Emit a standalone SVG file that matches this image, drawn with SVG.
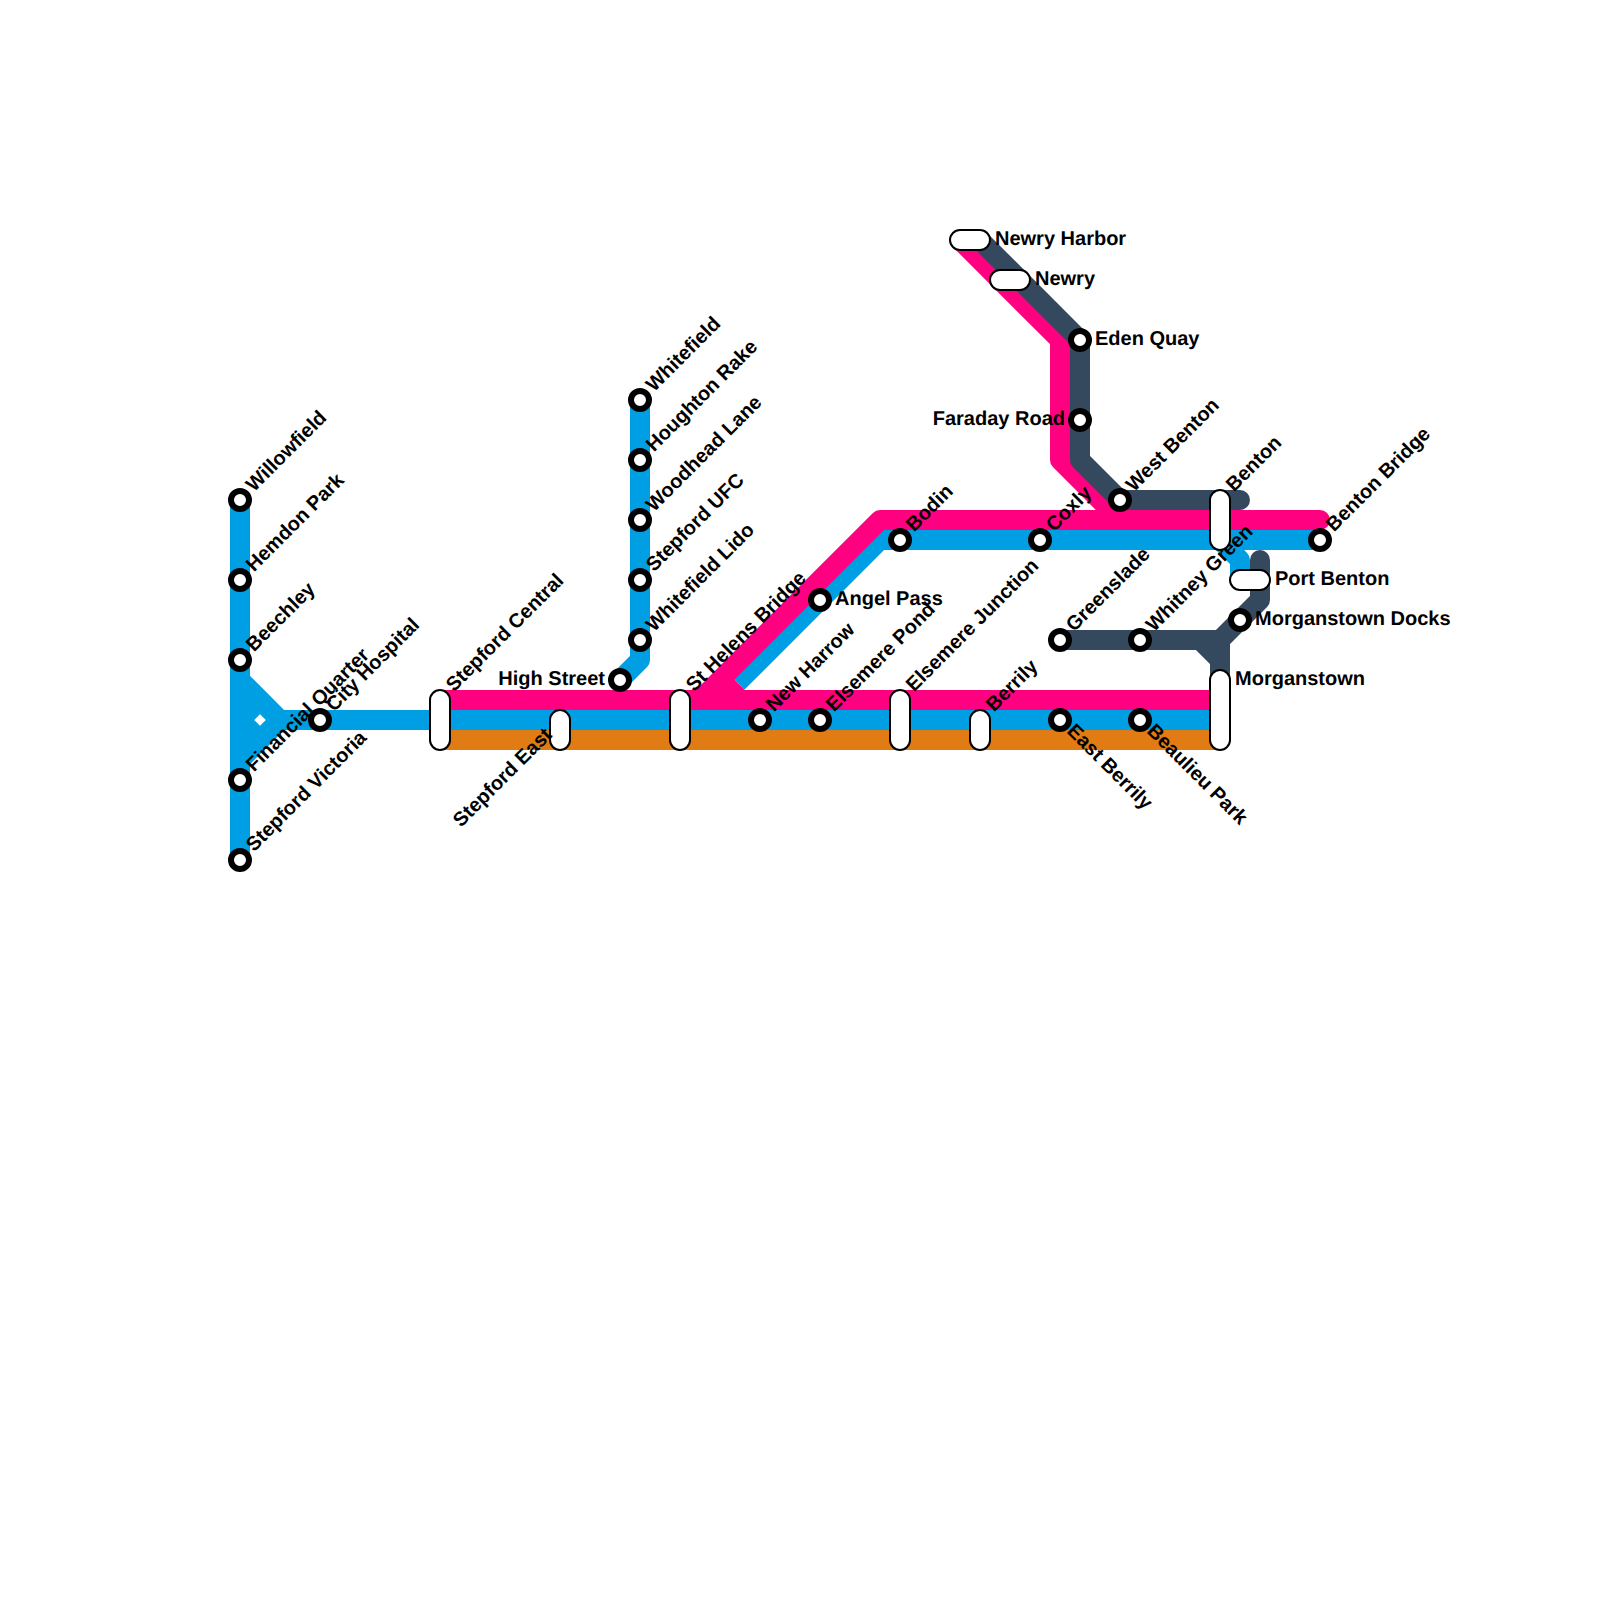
<svg xmlns="http://www.w3.org/2000/svg" width="1600" height="1600" viewBox="0 0 1600 1600">
<style>
.l{fill:none;stroke-width:20;stroke-linejoin:round}
.b{stroke:#009fe3}.p{stroke:#ff0080}.o{stroke:#e17b13}.d{stroke:#35495e}
.s circle{fill:#fff;stroke:#000;stroke-width:6}
.s rect{fill:#fff;stroke:#000;stroke-width:2}
text{font-family:"Liberation Sans",Arial,sans-serif;font-weight:700;font-size:20px;fill:#000;text-rendering:geometricPrecision}
.e{text-anchor:end}
</style>
<rect width="1600" height="1600" fill="#fff"/>
<g id="connectors">
<path class="l o" d="M440 740H1220"/>
<path class="l b" d="M240 500V860M240 680L280 720H1220M240 760L280 720M260 700L240 720L260 740"/>
<path class="l b" d="M640 400V660L620 680"/>
<path class="l b" d="M737.500 682.500L880 540H1320M1220 540L1240 560V585"/>
<path class="l p" d="M440 700H1220M700 700L880 520H1320" stroke-linecap="round"/>
<path class="l p" d="M720 700L737.500 682.500"/>
<path class="l p" d="M960 240L1060 340V460L1120 520"/>
<path class="l d" d="M980 240L1080 340V460L1120 500H1240" stroke-linecap="round"/>
<path class="l d" d="M1260 560V600L1220 640V680M1060 640H1220M1200 640L1220 660" stroke-linecap="round"/>
</g>
<g class="s">
<g id="willowfield"><circle cx="240" cy="500" r="9"/><text transform="translate(254 492.500) rotate(-45)">Willowfield</text></g>
<g id="hemdon-park"><circle cx="240" cy="580" r="9"/><text transform="translate(254 572.500) rotate(-45)">Hemdon Park</text></g>
<g id="beechley"><circle cx="240" cy="660" r="9"/><text transform="translate(254 652.500) rotate(-45)">Beechley</text></g>
<g id="financial-quarter"><circle cx="240" cy="780" r="9"/><text transform="translate(254 772.500) rotate(-45)">Financial Quarter</text></g>
<g id="stepford-victoria"><circle cx="240" cy="860" r="9"/><text transform="translate(254 852.500) rotate(-45)">Stepford Victoria</text></g>
<g id="city-hospital"><circle cx="320" cy="720" r="9"/><text transform="translate(334 712.500) rotate(-45)">City Hospital</text></g>
<g id="stepford-central"><rect x="430" y="690" width="20" height="60" rx="10"/><text transform="translate(454 692.500) rotate(-45)">Stepford Central</text></g>
<g id="stepford-east"><rect x="550" y="710" width="20" height="40" rx="10"/><text class="e" transform="translate(553 736) rotate(-45)">Stepford East</text></g>
<g id="st-helens-bridge"><rect x="670" y="690" width="20" height="60" rx="10"/><text transform="translate(694 692.500) rotate(-45)">St Helens Bridge</text></g>
<g id="whitefield"><circle cx="640" cy="400" r="9"/><text transform="translate(654 392.500) rotate(-45)">Whitefield</text></g>
<g id="houghton-rake"><circle cx="640" cy="460" r="9"/><text transform="translate(654 452.500) rotate(-45)">Houghton Rake</text></g>
<g id="woodhead-lane"><circle cx="640" cy="520" r="9"/><text transform="translate(654 512.500) rotate(-45)">Woodhead Lane</text></g>
<g id="stepford-ufc"><circle cx="640" cy="580" r="9"/><text transform="translate(654 572.500) rotate(-45)">Stepford UFC</text></g>
<g id="whitefield-lido"><circle cx="640" cy="640" r="9"/><text transform="translate(654 632.500) rotate(-45)">Whitefield Lido</text></g>
<g id="high-street"><circle cx="620" cy="680" r="9"/><text class="e" x="605" y="685">High Street</text></g>
<g id="new-harrow"><circle cx="760" cy="720" r="9"/><text transform="translate(774 712.500) rotate(-45)">New Harrow</text></g>
<g id="elsemere-pond"><circle cx="820" cy="720" r="9"/><text transform="translate(834 712.500) rotate(-45)">Elsemere Pond</text></g>
<g id="angel-pass"><circle cx="820" cy="600" r="9"/><text x="835" y="605">Angel Pass</text></g>
<g id="bodin"><circle cx="900" cy="540" r="9"/><text transform="translate(914 532.500) rotate(-45)">Bodin</text></g>
<g id="elsemere-junction"><rect x="890" y="690" width="20" height="60" rx="10"/><text transform="translate(914 692.500) rotate(-45)">Elsemere Junction</text></g>
<g id="berrily"><rect x="970" y="710" width="20" height="40" rx="10"/><text transform="translate(994 712.500) rotate(-45)">Berrily</text></g>
<g id="east-berrily"><circle cx="1060" cy="720" r="9"/><text transform="translate(1066 732) rotate(45)">East Berrily</text></g>
<g id="beaulieu-park"><circle cx="1140" cy="720" r="9"/><text transform="translate(1146 732) rotate(45)">Beaulieu Park</text></g>
<g id="coxly"><circle cx="1040" cy="540" r="9"/><text transform="translate(1054 532.500) rotate(-45)">Coxly</text></g>
<g id="greenslade"><circle cx="1060" cy="640" r="9"/><text transform="translate(1074 632.500) rotate(-45)">Greenslade</text></g>
<g id="whitney-green"><circle cx="1140" cy="640" r="9"/><text transform="translate(1154 632.500) rotate(-45)">Whitney Green</text></g>
<g id="west-benton"><circle cx="1120" cy="500" r="9"/><text transform="translate(1134 492.500) rotate(-45)">West Benton</text></g>
<g id="benton"><rect x="1210" y="490" width="20" height="60" rx="10"/><text transform="translate(1234 492.500) rotate(-45)">Benton</text></g>
<g id="benton-bridge"><circle cx="1320" cy="540" r="9"/><text transform="translate(1334 532.500) rotate(-45)">Benton Bridge</text></g>
<g id="port-benton"><rect x="1230" y="570" width="40" height="20" rx="10"/><text x="1275" y="585">Port Benton</text></g>
<g id="morganstown-docks"><circle cx="1240" cy="620" r="9"/><text x="1255" y="625">Morganstown Docks</text></g>
<g id="morganstown"><rect x="1210" y="670" width="20" height="80" rx="10"/><text x="1235" y="685">Morganstown</text></g>
<g id="newry-harbor"><rect x="950" y="230" width="40" height="20" rx="10"/><text x="995" y="245">Newry Harbor</text></g>
<g id="newry"><rect x="990" y="270" width="40" height="20" rx="10"/><text x="1035" y="285">Newry</text></g>
<g id="eden-quay"><circle cx="1080" cy="340" r="9"/><text x="1095" y="345">Eden Quay</text></g>
<g id="faraday-road"><circle cx="1080" cy="420" r="9"/><text class="e" x="1065" y="425">Faraday Road</text></g>
</g>
</svg>
